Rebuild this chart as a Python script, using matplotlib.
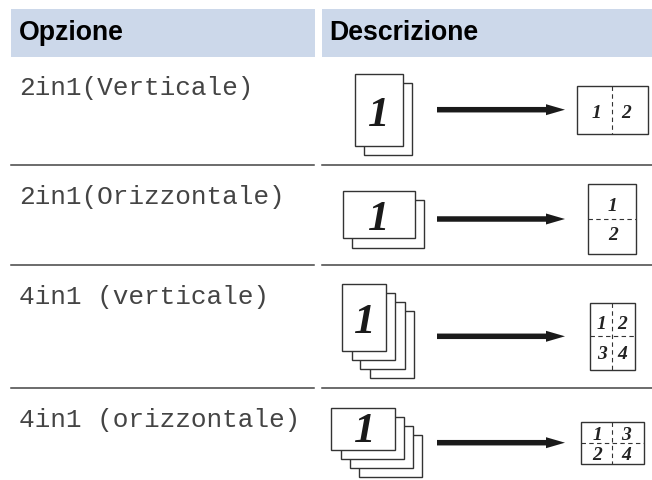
import matplotlib
matplotlib.use('Agg')
import matplotlib.pyplot as plt
from matplotlib.patches import Rectangle

W = 652
H = 481

headers = ['Opzione', 'Descrizione']
options = ['2in1(Verticale)', '2in1(Orizzontale)', '4in1 (verticale)', '4in1 (orizzontale)']
option_y = [88, 197, 297, 420]
rule_y = [165.6, 266, 389]

# stacks of pages, back to front: left, top, right, bottom
stacks = [
    [(364, 84.3, 411.7, 155.7), (355, 75.3, 402.7, 146.7)],
    [(352.3, 200.7, 423.7, 248.7), (343.3, 191.7, 414.7, 239.3)],
    [(370.3, 312.3, 414, 379), (360.3, 303.3, 404.7, 369.7),
     (352.3, 294.3, 395.3, 360.7), (341.7, 285, 386.3, 351.7)],
    [(359, 436, 422.3, 478.3), (350, 427, 413.3, 469.3),
     (340.7, 418, 404.3, 460.3), (331.3, 408.7, 395, 451)],
]
# x, baseline
big_one = [(379, 126), (379, 230), (365, 332.7), (365, 442)]

arrow_y = [110.7, 220, 337.3, 443.7]
arrow_x = (437, 565)

# result sheet: left, top, right, bottom
sheets = [(576.7, 87.3, 647.7, 134.7), (588.3, 184.7, 636, 255.3),
          (590, 304.3, 634.7, 370.7), (580.7, 422.7, 644, 464.7)]
dash_v = [612.3, None, 612.3, 612.3]
dash_h = [None, 220.3, 337.3, 443.7]
# digit, x, baseline
digits = [
    [('1', 596.7, 118.3), ('2', 626, 118.3)],
    [('1', 612.7, 211.5), ('2', 612.7, 240.5)],
    [('1', 601.7, 329.5), ('2', 621.7, 329.5), ('3', 601.7, 359), ('4', 622, 359)],
    [('1', 597, 440.5), ('3', 625.7, 440.5), ('2', 597, 460), ('4', 626, 460)],
]

fig = plt.figure(figsize=(W / 100, H / 100), dpi=100)
ax = fig.add_axes([0, 0, 1, 1])
ax.set_xlim(0, W)
ax.set_ylim(H, 0)
ax.axis('off')

# header
ax.add_patch(Rectangle((11, 10), 304, 48, color='#ccd8ea', lw=0))
ax.add_patch(Rectangle((322, 10), 330, 48, color='#ccd8ea', lw=0))
ax.text(19, 33, headers[0], family='Liberation Sans', weight='bold', size=19.2, va='center', color='black')
ax.text(329, 33, headers[1], family='Liberation Sans', weight='bold', size=19.2, va='center', color='black')

for y in rule_y:
    ax.plot([11, 314], [y, y], color='#444444', lw=1.1)
    ax.plot([322, 652], [y, y], color='#444444', lw=1.1)

for label, y in zip(options, option_y):
    ax.text(19, y, label, family='Liberation Mono', size=18.8, va='center', color='#444444')

for i in range(4):
    for l, t, r, b in stacks[i]:
        ax.add_patch(Rectangle((l, t), r - l, b - t, fc='white', ec='#333333', lw=1))
    x, y = big_one[i]
    ax.text(x, y, '1', family='Liberation Serif', weight='bold', style='italic',
            size=31, ha='center', va='baseline', color='#1a1a1a')

    ax.arrow(arrow_x[0], arrow_y[i], arrow_x[1] - arrow_x[0], 0, width=5.5, head_width=11,
             head_length=19, length_includes_head=True, color='#1a1a1a', lw=0)

    l, t, r, b = sheets[i]
    ax.add_patch(Rectangle((l, t), r - l, b - t, fc='white', ec='#333333', lw=1))
    if dash_v[i] is not None:
        ax.plot([dash_v[i], dash_v[i]], [t, b], color='#333333', lw=0.8, ls=(0, (4, 3)))
    if dash_h[i] is not None:
        ax.plot([l, r], [dash_h[i], dash_h[i]], color='#333333', lw=0.8, ls=(0, (4, 3)))
    for d, x, y in digits[i]:
        ax.text(x, y, d, family='Liberation Serif', weight='bold', style='italic',
                size=14, ha='center', va='baseline', color='#222222')

fig.savefig('out.png', dpi=100)
